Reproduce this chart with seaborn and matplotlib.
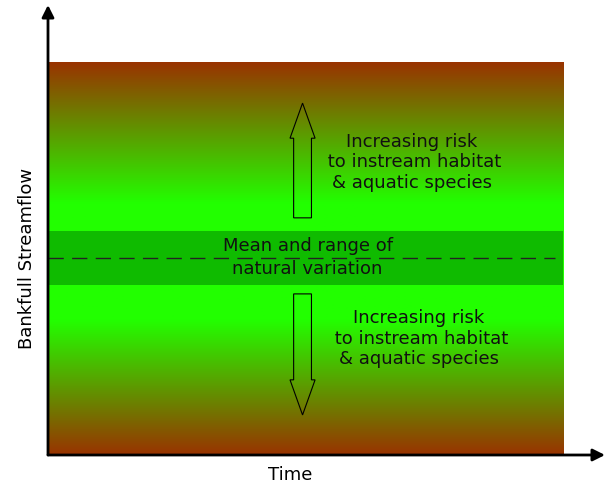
import numpy as np
import matplotlib
matplotlib.use("Agg")
import matplotlib.pyplot as plt
import matplotlib.patches as mpatches
from matplotlib.colors import to_rgb
import seaborn as sns

sns.set_theme(style="white")
plt.rcParams['font.family'] = ['DejaVu Sans']

# conceptual data (axes run 0..100 in both directions)
time_end = 92.5
flow_top = 87.3
band_low = 37.8
band_high = 49.8
flow_mean = 43.8
dash_end = 91.0

# gradient stops (streamflow level -> colour)
grad_levels = [0.0, 30.0, 37.8, 49.8, 56.0, 87.3]
grad_colors = ['#993300', '#22ff00', '#22ff00', '#22ff00', '#22ff00', '#993300']
band_color = '#0fbb00'

up_arrow = dict(x=45.7, base=52.7, tip=78.2)
down_arrow = dict(x=45.7, base=35.8, tip=8.9)

risk_text = "Increasing risk\n to instream habitat\n& aquatic species"
mean_text = "Mean and range of\nnatural variation"

fig = plt.figure(figsize=(6.08, 4.86), dpi=100)
ax = fig.add_axes([48/608, 31/486, 557/608, 450/486])
for s in ax.spines.values():
    s.set_visible(False)
ax.set_xticks([])
ax.set_yticks([])

# gradient
ys = np.linspace(0, flow_top, 400)
rgb = np.array([to_rgb(c) for c in grad_colors])
col = np.stack([np.interp(ys, grad_levels, rgb[:, i]) for i in range(3)], axis=1)
img = col[::-1][:, None, :]
ax.imshow(img, extent=[0, time_end, 0, flow_top], aspect='auto', zorder=1, interpolation='bilinear')
ax.set_xlim(0, 100)
ax.set_ylim(0, 100)

# natural variation band
ax.fill_between([0, time_end], band_low, band_high, color=band_color, lw=0, zorder=2)
sns.lineplot(x=[0, dash_end], y=[flow_mean, flow_mean], ax=ax, color='#222222',
             lw=1, zorder=3)
ax.lines[-1].set_dashes((11, 6))

# hollow arrows
for a in (up_arrow, down_arrow):
    ar = mpatches.FancyArrow(a['x'], a['base'], 0, a['tip'] - a['base'], width=3.2,
                             head_width=4.5, head_length=7.8, length_includes_head=True,
                             fill=False, ec='black', lw=0.8, zorder=4)
    ax.add_patch(ar)

ax.text(65.3, 65.1, risk_text, ha='center', va='center', fontsize=13,
        linespacing=1.18, color='#111111', zorder=5)
ax.text(66.6, 25.8, risk_text, ha='center', va='center', fontsize=13,
        linespacing=1.18, color='#111111', zorder=5)
ax.text(46.6, 43.9, mean_text, ha='center', va='center', fontsize=13,
        linespacing=1.3, color='#111111', zorder=5)

# axis arrows
for end in [(0, 1), (1, 0)]:
    ax.annotate('', xy=end, xytext=(0, 0), xycoords='axes fraction',
                arrowprops=dict(arrowstyle='-|>', lw=2, color='black', mutation_scale=18,
                                shrinkA=0, shrinkB=0), zorder=6, annotation_clip=False)

fig.text(27/608, 1 - 258/486, "Bankfull Streamflow", rotation=90, ha='center', va='center',
         fontsize=13, color='black')
fig.text(290/608, 1 - 475/486, "Time", ha='center', va='center', fontsize=13, color='black')

fig.savefig('out.png', dpi=100)
